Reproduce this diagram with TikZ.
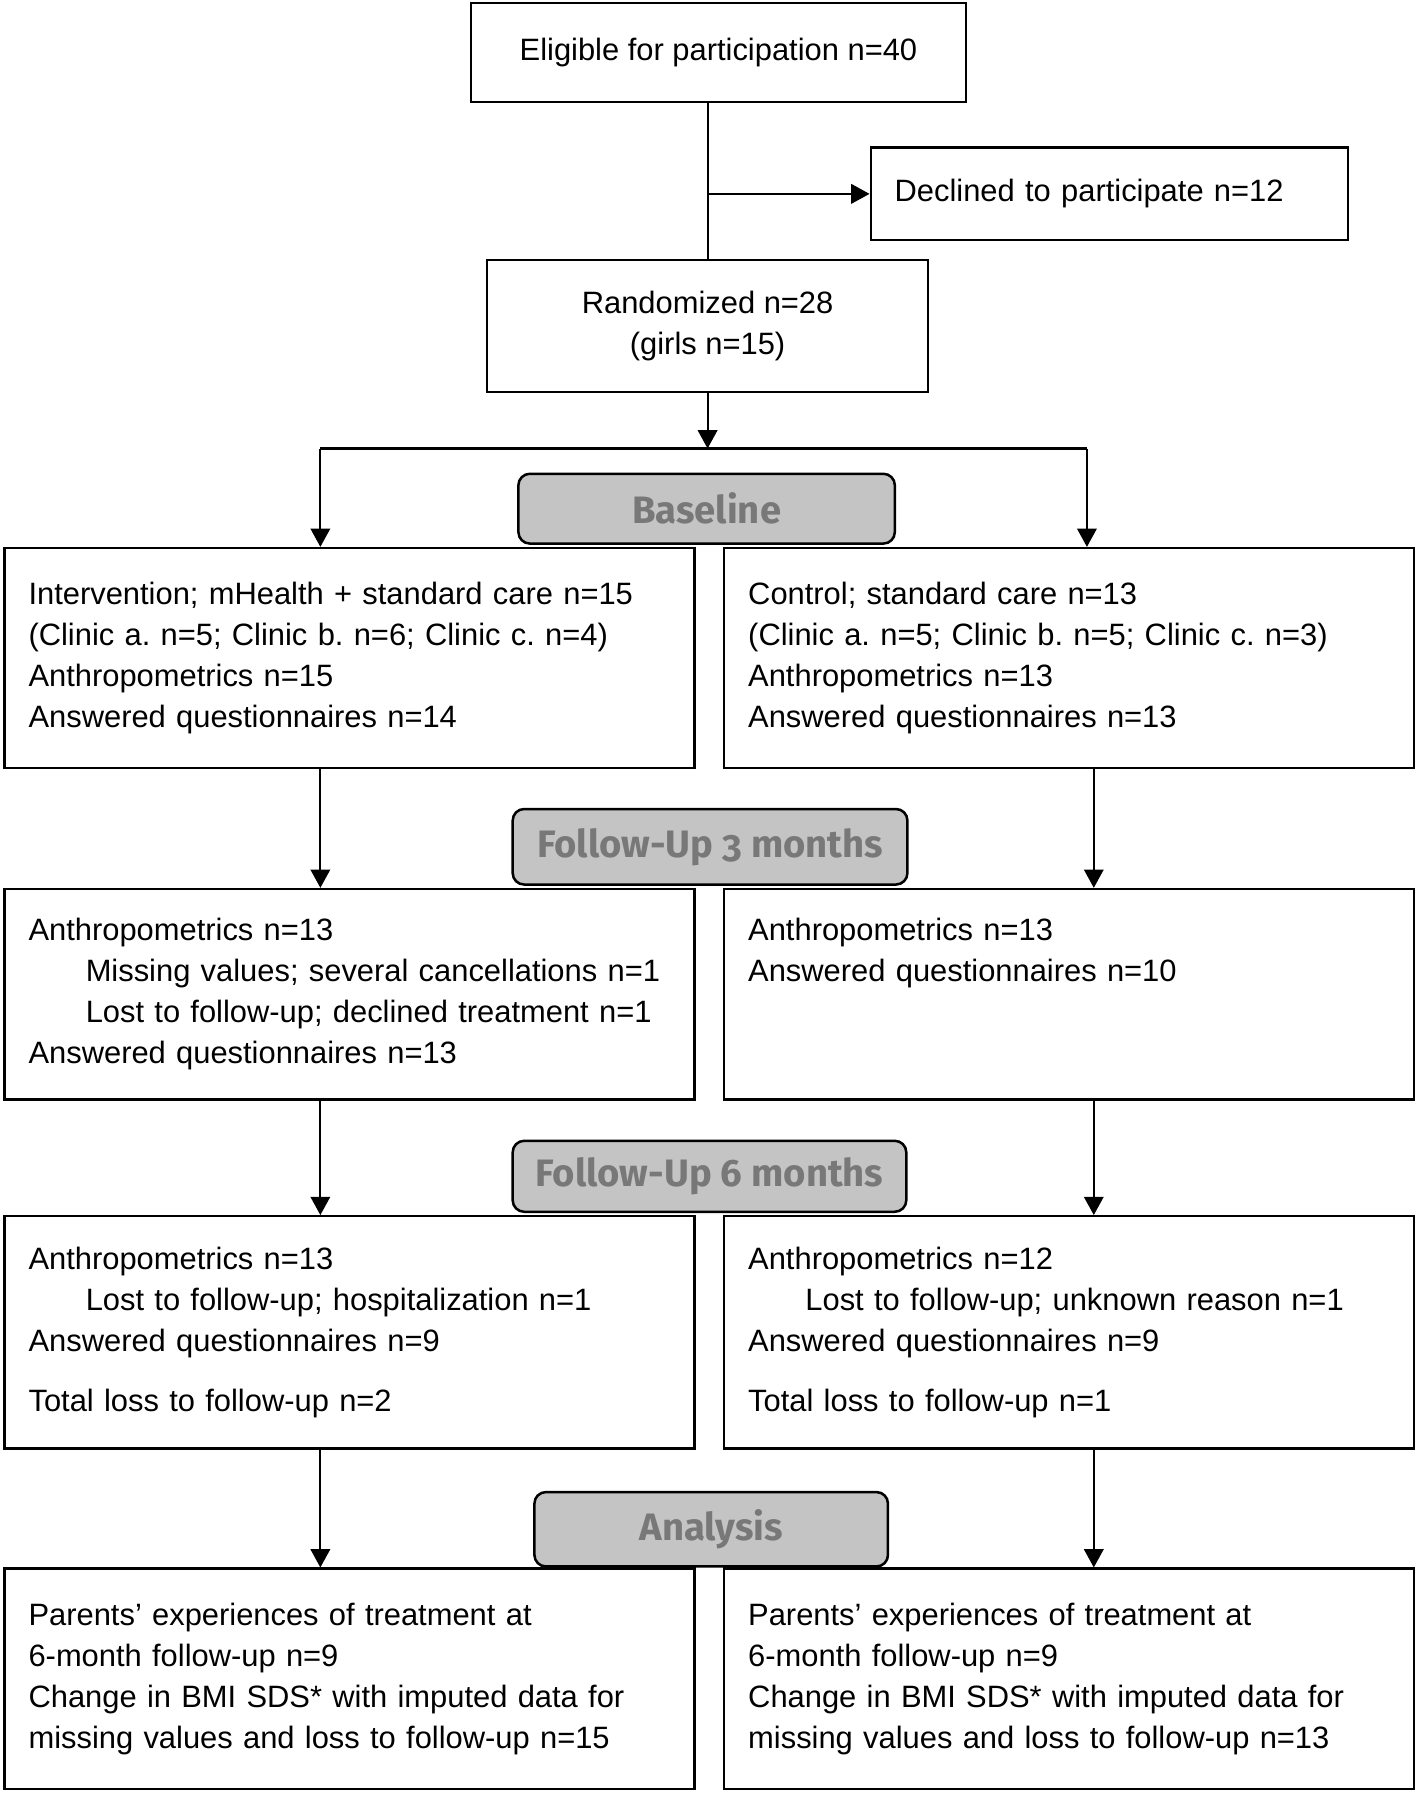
\documentclass[tikz,border=0pt]{standalone}
\usepackage{fontspec}
\setmainfont{Liberation Sans}
\newfontfamily\labelfont[Numbers=OldStyle]{Fira Sans}
\usetikzlibrary{arrows.meta}
\definecolor{lblfill}{HTML}{C4C4C4}
\definecolor{lbltext}{HTML}{787878}
\frenchspacing
\begin{document}
\begin{tikzpicture}[x=0.5pt,y=-0.5pt,
  txt/.style={font=\fontsize{13.5pt}{18pt}\selectfont},
  box/.style={txt,draw,line width=0.95pt,anchor=north west,inner ysep=0pt,inner xsep=10.5pt,align=left},
  cbox/.style={txt,draw,line width=0.95pt,anchor=north west,inner sep=0pt,align=center},
  wide/.style={box,text width=280.5pt,minimum height=#1},
  lbl/.style={draw,line width=1.1pt,fill=lblfill,rounded corners=5pt,anchor=north west,inner sep=0pt,
    font=\labelfont\bfseries\fontsize{16.7pt}{16.7pt}\selectfont,text=lbltext},
  arr/.style={line width=0.95pt,-{Triangle[length=8pt,width=8.5pt]}},
  ln/.style={line width=0.95pt}]
\useasboundingbox (0,0) rectangle (1239,1568);
\def\ind{\hspace*{25pt}}
% top part
\node[cbox,minimum width=216pt,minimum height=43pt] (elig) at (411,2) {\raisebox{2pt}{Eligible for participation n=40}};
\node[box,text width=187.5pt,minimum height=40.5pt] (decl) at (760,128) {Declined to participate n=12};
\node[cbox,minimum width=192.5pt,minimum height=58pt] (rand) at (425,226) {Randomized n=28\\(girls n=15)};
% labels
\node[lbl,minimum width=164.5pt,minimum height=30.5pt] (lbBase) at (452,413) {Baseline};
\node[lbl,minimum width=172.5pt,minimum height=33pt] (lbFU3) at (447,706) {Follow-Up 3 months};
\node[lbl,minimum width=172pt,minimum height=31pt] (lbFU6) at (447,996) {Follow-Up 6 months};
\node[lbl,minimum width=154.5pt,minimum height=32.5pt] (lbAn) at (466,1303) {Analysis};
% baseline
\node[wide=96pt] (interv) at (3,478) {Intervention; mHealth + standard care n=15\\(Clinic a. n=5; Clinic b. n=6; Clinic c. n=4)\\Anthropometrics n=15\\Answered questionnaires n=14};
\node[wide=96pt] (ctrl) at (632,478) {Control; standard care n=13\\(Clinic a. n=5; Clinic b. n=5; Clinic c. n=3)\\Anthropometrics n=13\\Answered questionnaires n=13};
% follow-up 3
\node[wide=92pt] (fu3L) at (3,776) {Anthropometrics n=13\\\ind Missing values; several cancellations n=1\\\ind Lost to follow-up; declined treatment n=1\\Answered questionnaires n=13};
\node[wide=92pt] (fu3R) at (632,776) {Anthropometrics n=13\\Answered questionnaires n=10\\\phantom{Ay}\\\phantom{Ay}};
% follow-up 6
\node[wide=101.5pt] (fu6L) at (3,1062) {Anthropometrics n=13\\\ind Lost to follow-up; hospitalization n=1\\Answered questionnaires n=9\\[8pt]Total loss to follow-up n=2};
\node[wide=101.5pt] (fu6R) at (632,1062) {Anthropometrics n=12\\\ind Lost to follow-up; unknown reason n=1\\Answered questionnaires n=9\\[8pt]Total loss to follow-up n=1};
% analysis
\node[wide=96.5pt] (anL) at (3,1370) {Parents’ experiences of treatment at\\6-month follow-up n=9\\Change in BMI SDS* with imputed data for\\missing values and loss to follow-up n=15};
\node[wide=96.5pt] (anR) at (632,1370) {Parents’ experiences of treatment at\\6-month follow-up n=9\\Change in BMI SDS* with imputed data for\\missing values and loss to follow-up n=13};
% connectors
\coordinate (sL) at (280,392);
\coordinate (sR) at (950,392);
\coordinate (cL) at (280,0);
\coordinate (cR) at (956,0);
\draw[ln] (rand.north |- elig.south) -- (rand.north);
\draw[arr] (rand.north |- decl.west) -- (decl.west);
\draw[arr] (rand.south) -- (rand.south |- sL);
\draw[ln] (sL) -- (sR);
\draw[arr] (sL) -- (sL |- interv.north);
\draw[arr] (sR) -- (sR |- ctrl.north);
\draw[arr] (interv.south -| cL) -- (fu3L.north -| cL);
\draw[arr] (ctrl.south -| cR) -- (fu3R.north -| cR);
\draw[arr] (fu3L.south -| cL) -- (fu6L.north -| cL);
\draw[arr] (fu3R.south -| cR) -- (fu6R.north -| cR);
\draw[arr] (fu6L.south -| cL) -- (anL.north -| cL);
\draw[arr] (fu6R.south -| cR) -- (anR.north -| cR);
\end{tikzpicture}
\end{document}
